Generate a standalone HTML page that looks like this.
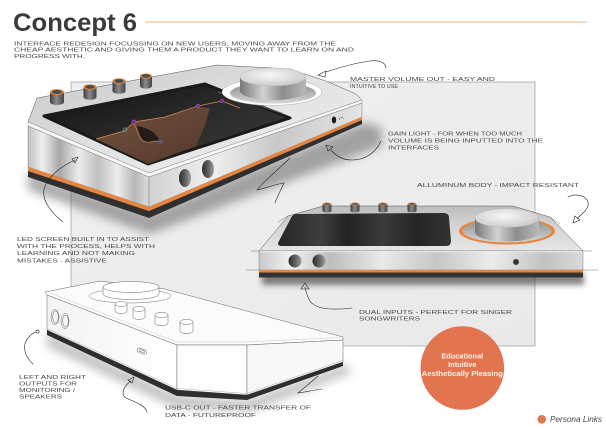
<!DOCTYPE html>
<html>
<head>
<meta charset="utf-8">
<style>
html,body{margin:0;padding:0;background:#fff;}
svg{display:block;}
</style>
</head>
<body>
<svg width="606" height="429" viewBox="0 0 606 429" xmlns="http://www.w3.org/2000/svg" font-family="'Liberation Sans', sans-serif">
<defs>
  <filter id="b3" x="-30%" y="-100%" width="160%" height="300%"><feGaussianBlur stdDeviation="3"/></filter>
  <filter id="b5" x="-30%" y="-100%" width="160%" height="300%"><feGaussianBlur stdDeviation="5"/></filter>
  <linearGradient id="rectG" x1="0" y1="0" x2="1" y2="1">
    <stop offset="0" stop-color="#f0f0f0"/><stop offset="1" stop-color="#e9e9e9"/>
  </linearGradient>
  <linearGradient id="g1top" x1="0" y1="0" x2="1" y2="1">
    <stop offset="0" stop-color="#c6c6c6"/><stop offset=".5" stop-color="#e2e2e2"/><stop offset="1" stop-color="#f2f2f2"/>
  </linearGradient>
  <linearGradient id="g1face" x1="0" y1="0" x2="1" y2="0">
    <stop offset="0" stop-color="#c2c2c2"/><stop offset=".12" stop-color="#efefef"/><stop offset=".26" stop-color="#a8a8a8"/>
    <stop offset=".42" stop-color="#ebebeb"/><stop offset=".58" stop-color="#c0c0c0"/><stop offset=".74" stop-color="#ededed"/>
    <stop offset=".88" stop-color="#b8b8b8"/><stop offset="1" stop-color="#dcdcdc"/>
  </linearGradient>
  <linearGradient id="g1right" x1="0" y1="0" x2="1" y2="0">
    <stop offset="0" stop-color="#d2d2d2"/><stop offset=".3" stop-color="#efefef"/><stop offset=".6" stop-color="#c8c8c8"/><stop offset="1" stop-color="#e4e4e4"/>
  </linearGradient>
  <linearGradient id="scr" x1="0" y1="0" x2="1" y2="1">
    <stop offset="0" stop-color="#101010"/><stop offset=".5" stop-color="#2a2a2a"/><stop offset="1" stop-color="#3c3c3c"/>
  </linearGradient>
  <linearGradient id="brown" x1="0" y1="0" x2="1" y2="1">
    <stop offset="0" stop-color="#7e5641"/><stop offset="1" stop-color="#553a2c"/>
  </linearGradient>
  <linearGradient id="knobG" x1="0" y1="0" x2="1" y2="0">
    <stop offset="0" stop-color="#3c3c3c"/><stop offset=".45" stop-color="#8a8a8a"/><stop offset="1" stop-color="#444"/>
  </linearGradient>
  <linearGradient id="knobBody" x1="0" y1="0" x2="1" y2="0">
    <stop offset="0" stop-color="#777"/><stop offset=".35" stop-color="#d2d2d2"/><stop offset=".65" stop-color="#8c8c8c"/><stop offset="1" stop-color="#b8b8b8"/>
  </linearGradient>
  <radialGradient id="knobTop" cx=".45" cy=".4" r=".7">
    <stop offset="0" stop-color="#f7f7f7"/><stop offset="1" stop-color="#c4c4c4"/>
  </radialGradient>
  <linearGradient id="recess" x1="0" y1="0" x2="0" y2="1">
    <stop offset="0" stop-color="#8e8e8e"/><stop offset="1" stop-color="#d4d4d4"/>
  </linearGradient>
  <linearGradient id="hole" x1="0" y1="0" x2="1" y2="0">
    <stop offset="0" stop-color="#2a2a2a"/><stop offset=".6" stop-color="#6a6a6a"/><stop offset="1" stop-color="#a0a0a0"/>
  </linearGradient>
  <linearGradient id="g2top" x1="0" y1="0" x2="0" y2="1">
    <stop offset="0" stop-color="#bdbdbd"/><stop offset=".5" stop-color="#d6d6d6"/><stop offset="1" stop-color="#e6e6e6"/>
  </linearGradient>
  <linearGradient id="g2front" x1="0" y1="0" x2="1" y2="0">
    <stop offset="0" stop-color="#c9c9c9"/><stop offset=".1" stop-color="#f2f2f2"/><stop offset=".22" stop-color="#bdbdbd"/>
    <stop offset=".38" stop-color="#e9e9e9"/><stop offset=".55" stop-color="#c6c6c6"/><stop offset=".72" stop-color="#ececec"/>
    <stop offset=".88" stop-color="#c2c2c2"/><stop offset="1" stop-color="#dadada"/>
  </linearGradient>
  <linearGradient id="scr2" x1="0" y1="0" x2="1" y2="0">
    <stop offset="0" stop-color="#262626"/><stop offset=".25" stop-color="#3e3e3e"/><stop offset=".4" stop-color="#222"/>
    <stop offset=".6" stop-color="#3a3a3a"/><stop offset=".8" stop-color="#252525"/><stop offset="1" stop-color="#333"/>
  </linearGradient>
  <linearGradient id="w1" x1="0" y1="0" x2="1" y2="0">
    <stop offset="0" stop-color="#f3f3f3"/><stop offset="1" stop-color="#ffffff"/>
  </linearGradient>
</defs>

<rect x="0" y="0" width="606" height="429" fill="#ffffff"/>

<!-- Title -->
<text x="13" y="31" font-size="25" font-weight="bold" fill="#3b3b3b" textLength="124" lengthAdjust="spacingAndGlyphs">Concept 6</text>
<line x1="145" y1="22" x2="587" y2="22" stroke="#efc3a0" stroke-width="1.3"/>

<!-- Description -->
<g font-size="5.4" fill="#4a4a4a">
  <text x="14" y="45.3" textLength="322" lengthAdjust="spacingAndGlyphs">INTERFACE REDESIGN FOCUSSING ON NEW USERS, MOVING AWAY FROM THE</text>
  <text x="14" y="51.5" textLength="340" lengthAdjust="spacingAndGlyphs">CHEAP AESTHETIC AND GIVING THEM A PRODUCT THEY WANT TO LEARN ON AND</text>
  <text x="14" y="58" textLength="71" lengthAdjust="spacingAndGlyphs">PROGRESS WITH.</text>
</g>

<!-- Background panel -->
<rect x="71" y="82" width="464" height="264" fill="url(#rectG)" stroke="#8c8c8c" stroke-width=".6"/>

<!-- ========== Device 1 (big perspective) ========== -->
<polygon points="28,172 149,214 365,122 382,128 382,146 150,234 28,190" fill="#444" opacity=".45" filter="url(#b5)"/>
<polygon points="28,122 37,98 217,65 290,69 326,81 356,94 362,100 149,173" fill="url(#g1top)" stroke="#555" stroke-width=".5"/>
<polygon points="28,122 149,173 362,100 362,103 149,177 28,126" fill="#f7f7f7" stroke="#777" stroke-width=".3"/>
<polygon points="28,126 149,177 149,207 28,167" fill="url(#g1face)" stroke="#666" stroke-width=".4"/>
<polygon points="149,177 362,103 362,117 149,207" fill="url(#g1right)" stroke="#666" stroke-width=".4"/>
<polygon points="28,167 149,207 149,211 28,171" fill="#e9843a"/>
<polygon points="149,207 362,117 362,120 149,211" fill="#e9843a"/>
<polygon points="28,171 149,211 149,218 28,177" fill="#2f2f2f"/>
<polygon points="149,211 362,120 362,124 149,218" fill="#2f2f2f"/>

<!-- screen -->
<polygon points="44,116 205,84 290,118 148,164" fill="url(#scr)" stroke="#1a1a1a" stroke-width="3" stroke-linejoin="round"/>
<line x1="218" y1="92" x2="282" y2="113" stroke="#777" stroke-width="1.2" opacity=".6"/>
<polygon points="96,139 124,131 134,122 165,117 198,107 210,108 204,128 196,146 148,164" fill="url(#brown)" opacity=".9"/>
<path d="M137,126 C139,134 141,141 147,142 C152,142 155,139 160,141 C157,134 150,128 137,126 Z" fill="#241c18"/>
<polyline points="96,139 124,131 134,122 165,117 198,106 222,101 240,108" fill="none" stroke="#d98a55" stroke-width=".7"/>
<path d="M134,124 C138,130 138,140 146,142 C152,143 156,140 161,142" fill="none" stroke="#d98a55" stroke-width=".6"/>
<circle cx="125" cy="130" r="2" fill="none" stroke="#4aa8a8" stroke-width=".7"/>
<circle cx="134" cy="122" r="2" fill="#6a2f7a" stroke="#b055c8" stroke-width=".7"/>
<circle cx="160" cy="142" r="2" fill="none" stroke="#4a6acc" stroke-width=".7"/>
<circle cx="198" cy="106" r="1.8" fill="#6a2f7a" stroke="#b055c8" stroke-width=".6"/>
<circle cx="222" cy="101" r="1.8" fill="#6a2f7a" stroke="#b055c8" stroke-width=".6"/>

<!-- small knobs dev1 -->
<g>
  <rect x="50" y="92" width="14" height="10" fill="url(#knobG)"/><ellipse cx="57" cy="102" rx="7" ry="3" fill="url(#knobG)"/>
  <ellipse cx="57" cy="92" rx="7" ry="3" fill="#e08a40"/><ellipse cx="57" cy="92" rx="5" ry="2" fill="#4a4a4a"/>
  <rect x="83.5" y="87" width="13" height="10" fill="url(#knobG)"/><ellipse cx="90" cy="97" rx="6.5" ry="2.8" fill="url(#knobG)"/>
  <ellipse cx="90" cy="87" rx="6.5" ry="2.8" fill="#e08a40"/><ellipse cx="90" cy="87" rx="4.6" ry="1.9" fill="#4a4a4a"/>
  <rect x="112.5" y="81" width="13" height="10" fill="url(#knobG)"/><ellipse cx="119" cy="91" rx="6.5" ry="2.8" fill="url(#knobG)"/>
  <ellipse cx="119" cy="81" rx="6.5" ry="2.8" fill="#e08a40"/><ellipse cx="119" cy="81" rx="4.6" ry="1.9" fill="#4a4a4a"/>
  <rect x="140" y="76" width="12" height="10" fill="url(#knobG)"/><ellipse cx="146" cy="86" rx="6" ry="2.6" fill="url(#knobG)"/>
  <ellipse cx="146" cy="76" rx="6" ry="2.6" fill="#e08a40"/><ellipse cx="146" cy="76" rx="4.2" ry="1.8" fill="#4a4a4a"/>
</g>

<!-- master knob dev1 -->
<ellipse cx="272" cy="92" rx="50" ry="13.5" fill="#fbfbfb" stroke="#999" stroke-width=".4"/>
<ellipse cx="273" cy="93" rx="43" ry="10.5" fill="url(#recess)"/>
<path d="M240,77 L240,91 A33,9 0 0 0 306,91 L306,77 Z" fill="url(#knobBody)"/>
<ellipse cx="273" cy="77" rx="33" ry="9" fill="url(#knobTop)" stroke="#aaa" stroke-width=".3"/>

<!-- jack + holes dev1 -->
<ellipse cx="334" cy="120" rx="2.2" ry="3.5" fill="#1a1a1a"/>
<path d="M339.5,120 a2,2 0 0 1 4,-1" fill="none" stroke="#333" stroke-width=".5"/>
<ellipse cx="185" cy="178" rx="6" ry="9" fill="url(#hole)"/>
<ellipse cx="208" cy="169" rx="6" ry="9" fill="url(#hole)"/>

<!-- ========== Device 2 (front view) ========== -->
<rect x="262" y="273" width="322" height="12" fill="#222" opacity=".55" filter="url(#b3)"/>
<polygon points="259,251 288,216 323,206 513,206 550,217 583,251" fill="url(#g2top)" stroke="#555" stroke-width=".5"/>
<rect x="259" y="251" width="324" height="19" fill="url(#g2front)" stroke="#666" stroke-width=".4"/>
<line x1="260" y1="251.7" x2="582" y2="251.7" stroke="#f8f8f8" stroke-width="1"/>
<rect x="259" y="270" width="324" height="2.5" fill="#e9843a"/>
<rect x="259" y="272.5" width="324" height="5" fill="#333"/>
<path d="M296,214 L444,213 Q449,213 449,218 L451,241 Q451,246 446,246 L282,246 Q276,246 279,241 L291,218 Q293,214 296,214 Z" fill="url(#scr2)"/>
<g>
  <rect x="322.5" y="204" width="9" height="7" fill="url(#knobG)"/><ellipse cx="327" cy="211" rx="4.5" ry="1.5" fill="url(#knobG)"/><ellipse cx="327" cy="204" rx="4.5" ry="1.5" fill="#e08a40"/><ellipse cx="327" cy="204" rx="3" ry=".9" fill="#555"/>
  <rect x="350.5" y="204" width="9" height="7" fill="url(#knobG)"/><ellipse cx="355" cy="211" rx="4.5" ry="1.5" fill="url(#knobG)"/><ellipse cx="355" cy="204" rx="4.5" ry="1.5" fill="#e08a40"/><ellipse cx="355" cy="204" rx="3" ry=".9" fill="#555"/>
  <rect x="378.5" y="204" width="9" height="7" fill="url(#knobG)"/><ellipse cx="383" cy="211" rx="4.5" ry="1.5" fill="url(#knobG)"/><ellipse cx="383" cy="204" rx="4.5" ry="1.5" fill="#e08a40"/><ellipse cx="383" cy="204" rx="3" ry=".9" fill="#555"/>
  <rect x="407.5" y="204" width="9" height="7" fill="url(#knobG)"/><ellipse cx="412" cy="211" rx="4.5" ry="1.5" fill="url(#knobG)"/><ellipse cx="412" cy="204" rx="4.5" ry="1.5" fill="#e08a40"/><ellipse cx="412" cy="204" rx="3" ry=".9" fill="#555"/>
</g>
<ellipse cx="507" cy="231" rx="48" ry="13.5" fill="#e9843a"/>
<ellipse cx="507" cy="231" rx="44.5" ry="11.5" fill="url(#recess)"/>
<path d="M475,218 L475,232 A32,9.5 0 0 0 539,232 L539,218 Z" fill="url(#knobBody)"/>
<ellipse cx="507" cy="218" rx="32" ry="9.5" fill="url(#knobTop)" stroke="#aaa" stroke-width=".3"/>
<circle cx="295" cy="261" r="6.5" fill="url(#hole)"/>
<circle cx="319" cy="261" r="6.5" fill="url(#hole)"/>
<circle cx="516" cy="262" r="3" fill="#333" stroke="#999" stroke-width=".5"/>
<g stroke="#555" stroke-width=".4">
  <line x1="246" y1="270" x2="259" y2="270"/><line x1="583" y1="270" x2="598" y2="270"/>
  <line x1="251" y1="251" x2="259" y2="251"/><line x1="583" y1="251" x2="592" y2="251"/>
  <line x1="278" y1="222" x2="288" y2="216"/><line x1="550" y1="217" x2="560" y2="224"/>
</g>

<!-- ========== Device 3 (white wireframe) ========== -->
<polygon points="47,333 177,396 247,401 345,365 352,372 250,411 175,407 47,346" fill="#777" opacity=".5" filter="url(#b5)"/>
<polygon points="45,292 100,281 165,289 343,337 343,340 247,345 177,345 47,295" fill="#fbfbfb" stroke="#666" stroke-width=".5"/>
<polyline points="50,293 177,342 247,342 340,337.5" fill="none" stroke="#bbb" stroke-width=".4"/>
<polygon points="47,295 177,345 177,390 47,330" fill="url(#w1)" stroke="#666" stroke-width=".5"/>
<polygon points="177,345 247,345 247,395 177,390" fill="#fdfdfd" stroke="#666" stroke-width=".5"/>
<polygon points="247,345 343,340 343,362 247,395" fill="#f8f8f8" stroke="#666" stroke-width=".5"/>
<polyline points="47,328.5 177,388.5 247,393.5 343,360.5" fill="none" stroke="#999" stroke-width=".4"/>
<polygon points="47,330 177,390 177,396 47,335" fill="#2e2e2e"/>
<polygon points="177,390 247,395 247,400 177,396" fill="#2e2e2e"/>
<polygon points="247,395 343,362 343,366 247,400" fill="#2e2e2e"/>
<!-- master knob dev3 -->
<ellipse cx="130" cy="296" rx="41" ry="7" fill="#fdfdfd" stroke="#777" stroke-width=".5"/>
<path d="M103,287 L103,294 A28,5.5 0 0 0 159,294 L159,287" fill="#fff" stroke="#666" stroke-width=".5"/>
<ellipse cx="131" cy="287" rx="28" ry="5.5" fill="#fff" stroke="#666" stroke-width=".5"/>
<!-- small knobs dev3 -->
<g fill="#fff" stroke="#666" stroke-width=".5">
  <path d="M115,304 L115,311 A6,2.5 0 0 0 127,311 L127,304"/><ellipse cx="121" cy="304" rx="6" ry="2.5"/>
  <path d="M133,309 L133,317 A6,2.5 0 0 0 145,317 L145,309"/><ellipse cx="139" cy="309" rx="6" ry="2.5"/>
  <path d="M155,315 L155,323 A6.5,2.6 0 0 0 168,323 L168,315"/><ellipse cx="161.5" cy="315" rx="6.5" ry="2.6"/>
  <path d="M180,322 L180,331 A6.5,2.6 0 0 0 193,331 L193,322"/><ellipse cx="186.5" cy="322" rx="6.5" ry="2.6"/>
</g>
<g fill="none" stroke="#666" stroke-width=".5">
  <ellipse cx="55" cy="317" rx="4" ry="7.5"/><ellipse cx="55.5" cy="317" rx="2.8" ry="6"/>
  <ellipse cx="65" cy="321" rx="4" ry="7.5"/><ellipse cx="65.5" cy="321" rx="2.8" ry="6"/>
  <rect x="137" y="349" width="10" height="4.5" rx="2" transform="rotate(22 142 351)"/>
  <rect x="139" y="350.2" width="6" height="2" rx="1" transform="rotate(22 142 351)"/>
</g>

<!-- ========== Arrows ========== -->
<g fill="none" stroke="#222" stroke-width=".6" stroke-linecap="round">
  <path d="M386,68 C386,62 378,60 370,61 C355,63 338,68 326,72"/>
  <polygon points="318,75 326,71 325,77"/>
  <path d="M381,141 C376,152 366,160 352,160 C343,160 336,156 331,150"/>
  <polygon points="326,145 333,147 328,151"/>
  <path d="M568,197 C578,192 590,197 588,206 C586,212 580,215 577,219"/>
  <polygon points="573,223 575,216 580,220"/>
  <path d="M63,222 C50,212 40,198 45,186 C50,175 62,166 75,160"/>
  <polygon points="78,157 72,159 75,163"/>
  <path d="M290,158 C280,168 265,180 257,190 C266,188 276,184 284,183 C281,190 277,197 275,203"/>
  <path d="M352,308 C335,310 316,310 310,301 C306,294 306,291 305,287"/>
  <polygon points="305,283 301,289 309,289"/>
  <path d="M33,364 C24,356 22,345 28,338 C31,334 34,333 36,332"/>
  <circle cx="37.5" cy="331.5" r="1.6"/>
  <path d="M147,412 C145,405 135,402 126,398 C120,394 124,386 131,381"/>
  <polygon points="134,377 128,380 132,383"/>
  <path d="M318,376 C310,383 303,389 298,393 C306,392 314,390 322,389"/>
</g>

<!-- ========== Annotation text ========== -->
<g font-size="5.4" fill="#4a4a4a">
  <text x="350" y="81" textLength="145" lengthAdjust="spacingAndGlyphs">MASTER VOLUME OUT - EASY AND</text>
  <text x="350" y="88" textLength="48" lengthAdjust="spacingAndGlyphs">INTUITIVE TO USE</text>

  <text x="388" y="135.5" textLength="134" lengthAdjust="spacingAndGlyphs">GAIN LIGHT - FOR WHEN TOO MUCH</text>
  <text x="388" y="142.5" textLength="155" lengthAdjust="spacingAndGlyphs">VOLUME IS BEING INPUTTED INTO THE</text>
  <text x="388" y="149.5" textLength="51" lengthAdjust="spacingAndGlyphs">INTERFACES</text>

  <text x="417" y="187" textLength="162" lengthAdjust="spacingAndGlyphs">ALLUMINUM BODY - IMPACT RESISTANT</text>

  <text x="17" y="241" textLength="132" lengthAdjust="spacingAndGlyphs">LED SCREEN BUILT IN TO ASSIST</text>
  <text x="17" y="248" textLength="138" lengthAdjust="spacingAndGlyphs">WITH THE PROCESS, HELPS WITH</text>
  <text x="17" y="255" textLength="118" lengthAdjust="spacingAndGlyphs">LEARNING AND NOT MAKING</text>
  <text x="17" y="262.5" textLength="90" lengthAdjust="spacingAndGlyphs">MISTAKES - ASSISTIVE</text>

  <text x="359" y="314" textLength="153" lengthAdjust="spacingAndGlyphs">DUAL INPUTS - PERFECT FOR SINGER</text>
  <text x="359" y="320.5" textLength="61" lengthAdjust="spacingAndGlyphs">SONGWRITERS</text>

  <text x="19" y="379" textLength="67" lengthAdjust="spacingAndGlyphs">LEFT AND RIGHT</text>
  <text x="19" y="385.5" textLength="58" lengthAdjust="spacingAndGlyphs">OUTPUTS FOR</text>
  <text x="19" y="392" textLength="56" lengthAdjust="spacingAndGlyphs">MONITORING /</text>
  <text x="19" y="398.5" textLength="43" lengthAdjust="spacingAndGlyphs">SPEAKERS</text>

  <text x="165" y="409.5" textLength="146" lengthAdjust="spacingAndGlyphs">USB-C OUT - FASTER TRANSFER OF</text>
  <text x="165" y="417" textLength="91" lengthAdjust="spacingAndGlyphs">DATA - FUTUREPROOF</text>
</g>

<!-- ========== Persona circle ========== -->
<circle cx="462.3" cy="368" r="41.8" fill="#e27550"/>
<g font-size="7.4" font-weight="bold" fill="#fdf1ea" text-anchor="middle">
  <text x="462.3" y="358.6">Educational</text>
  <text x="462.3" y="366.9">Intuitive</text>
  <text x="462.3" y="375.9" textLength="81" lengthAdjust="spacingAndGlyphs">Aesthetically Pleasing</text>
</g>

<circle cx="541.7" cy="419.3" r="4.3" fill="#e27550"/>
<text x="550" y="422" font-size="8" font-style="italic" fill="#444" textLength="52" lengthAdjust="spacingAndGlyphs">Persona Links</text>
</svg>
</body>
</html>
